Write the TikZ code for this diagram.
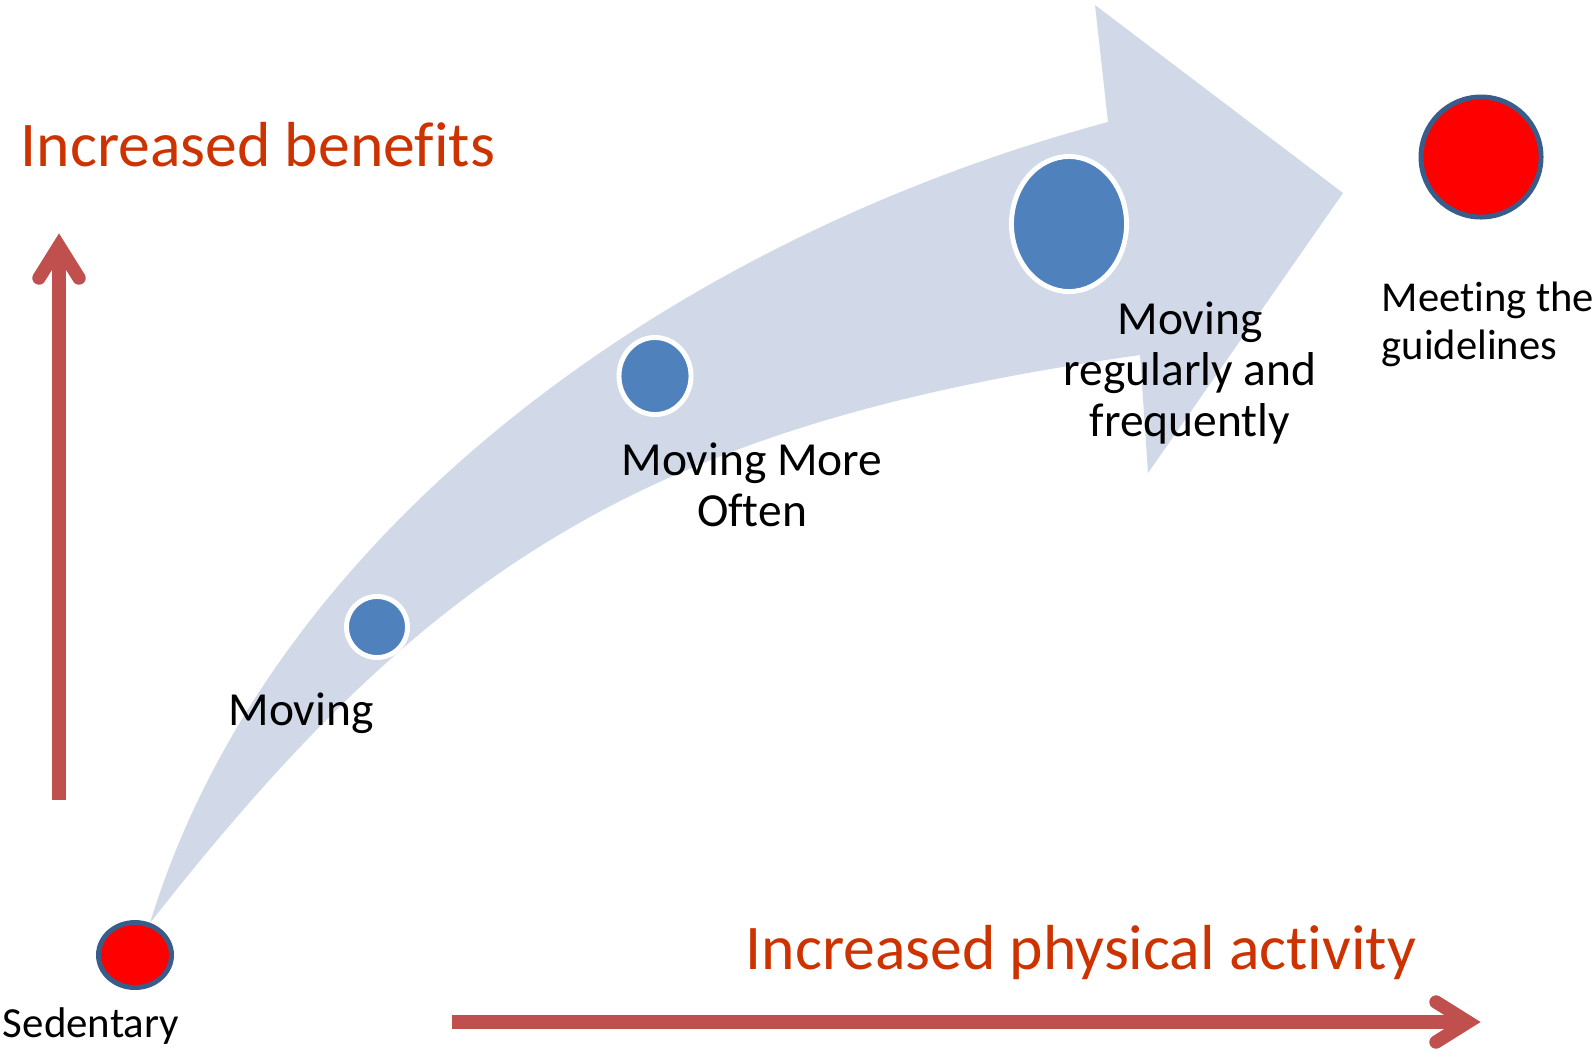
\documentclass[tikz,border=0pt]{standalone}
\usepackage{fontspec}
\setmainfont{Carlito}[Ligatures=NoCommon]
\usetikzlibrary{shapes.geometric}
\definecolor{bandblue}{RGB}{209,217,232}
\definecolor{dotblue}{RGB}{79,129,189}
\definecolor{rimblue}{RGB}{56,93,138}
\definecolor{axisred}{RGB}{192,80,77}
\definecolor{titlered}{RGB}{204,51,0}
\begin{document}
\begin{tikzpicture}[x=0.01cm, y=-0.01cm,
    bluedot/.style={ellipse, fill=dotblue, draw=white, line width=1.4pt, inner sep=0pt},
    reddot/.style={ellipse, fill=red, draw=rimblue, line width=1.4pt, inner sep=0pt},
    steplabel/.style={font=\fontsize{13.5}{14.4}\selectfont, align=center, inner sep=0pt},
    axislabel/.style={font=\fontsize{18.1}{22}\selectfont, text=titlered, inner sep=0pt, anchor=base west},
    axisline/.style={draw=axisred, line width=3.8pt}]
      \useasboundingbox (0,0) rectangle (1594,1053);

      % Draw the curved band with its arrow head
      \fill[bandblue] (150,923) .. controls (270,530) and (672,239) .. (1108,122)
        -- (1095,5) -- (1343,193) -- (1148,473) -- (1140,355)
        .. controls (645,425) and (429,567) .. (150,923) -- cycle;

      % Add the dots along the band
      \node[reddot, minimum width=0.73cm, minimum height=0.65cm] (sedentary) at (135,955) {};
      \node[bluedot, minimum width=0.61cm, minimum height=0.61cm] (moving) at (377,627) {};
      \node[bluedot, minimum width=0.72cm, minimum height=0.77cm] (more) at (655,376) {};
      \node[bluedot, minimum width=1.15cm, minimum height=1.35cm] (regular) at (1069,224) {};
      \node[reddot, minimum width=1.20cm, minimum height=1.20cm] (guide) at (1481,157) {};

      % Add labels for the dots
      \node[steplabel, font=\fontsize{12.2}{14}\selectfont, anchor=base] (sedlbl) at (91,1037) {Sedentary};
      \node[steplabel, anchor=base] (movinglbl) at (301,725) {Moving};
      \node[steplabel] (morelbl) at (752,485) {Moving More\\Often};
      \node[steplabel] (regularlbl) at (1190,373) {Moving\\regularly and\\frequently};
      \node[steplabel, align=left, anchor=west, font=\fontsize{12.1}{13.7}\selectfont] (guidelbl) at (1381,324) {Meeting the\\guidelines};

      % Draw the two axes
      \coordinate (vstart) at (59,800);
      \coordinate (vend) at (59,246);
      \draw[axisline] (vstart) -- (vend);
      \draw[axisline, line cap=round, line join=miter] (vend) ++(-20,32) -- (vend) -- ++(20,32);
      \coordinate (hstart) at (452,1022);
      \coordinate (hend) at (1468,1022);
      \draw[axisline] (hstart) -- (hend);
      \draw[axisline, line cap=round, line join=miter] (hend) ++(-32,-20) -- (hend) -- ++(-32,20);

      \node[axislabel] (benefitlbl) at (20,166) {Increased benefits};
      \node[axislabel] (activitylbl) at (745,969) {Increased physical activity};
    \end{tikzpicture}
\end{document}
